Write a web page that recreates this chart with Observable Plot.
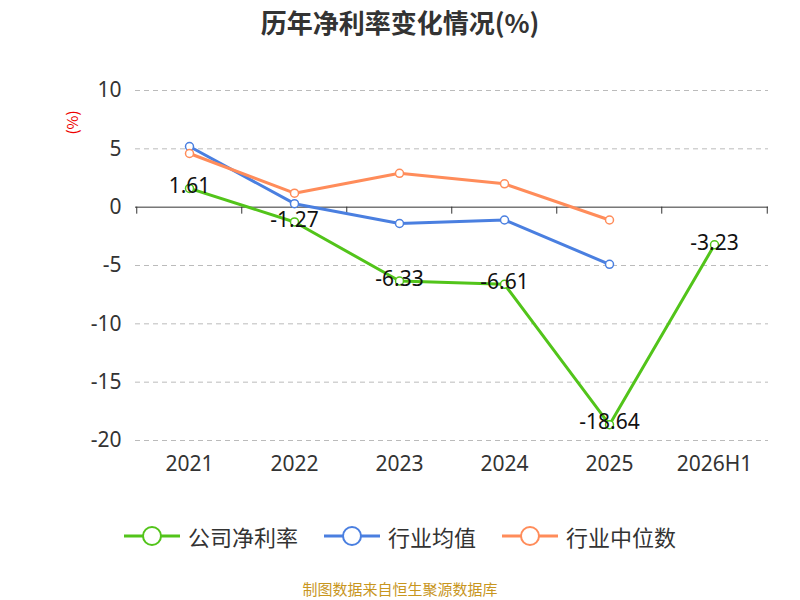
<!DOCTYPE html>
<html><head><meta charset="utf-8">
<script src="https://cdn.jsdelivr.net/npm/d3@7"></script>
<script src="https://cdn.jsdelivr.net/npm/@observablehq/plot@0.6"></script>
<style>
body{margin:0;width:800px;height:600px;background:#fff;font-family:"Noto Sans CJK SC","Noto Sans",sans-serif;position:relative}
#title{height:50px;line-height:44px;text-align:center;font-size:26px;font-weight:bold;color:#333}
#legend{position:absolute;top:520px;left:0;width:800px;display:flex;justify-content:center;gap:26px;font-size:22px;color:#333}
.li{display:flex;align-items:center;gap:8px}
#cap{position:absolute;top:578px;width:800px;text-align:center;font-size:15px;color:#c8961e}
#unit{position:absolute;left:60px;top:112px;transform:rotate(-90deg);color:#e00;font-size:15px}
</style></head><body>
<div id="title">历年净利率变化情况(%)</div>
<div id="chart"></div>
<div id="unit">(%)</div>
<div id="legend"></div>
<div id="cap">制图数据来自恒生聚源数据库</div>
<script>
const years=["2021","2022","2023","2024","2025","2026H1"];
const company=[1.61,-1.27,-6.33,-6.61,-18.64,-3.23];
const indAvg=[5.2,0.3,-1.4,-1.1,-4.9];
const indMed=[4.6,1.2,2.9,2.0,-1.1];
const yTicks=[10,5,0,-5,-10,-15,-20];
const series=[["公司净利率","#52c41a",company],["行业均值","#4a7fe0",indAvg],["行业中位数","#ff8c5a",indMed]];
const rows=series.flatMap(([n,c,v])=>v.map((y,i)=>({name:n,x:years[i],y})));
const comp=company.map((y,i)=>({x:years[i],y}));
const colorOf=n=>series.find(s=>s[0]===n)[1];
const chart=Plot.plot({width:800,height:440,marginTop:40,marginBottom:50,marginLeft:135,marginRight:32,
 x:{type:"point",domain:years,padding:0.5,label:null},
 y:{domain:[-20,10],ticks:yTicks,label:null},
 style:{fontFamily:"Noto Sans, sans-serif"},
 marks:[
  Plot.ruleY(yTicks.filter(d=>d!==0),{stroke:"#bbb",strokeDasharray:"5,4"}),
  Plot.ruleY([0],{stroke:"#333"}),
  Plot.ruleX(years,{x:d=>d,y1:0,y2:-0.6,dx:-52.75,stroke:"#333"}),
  Plot.ruleX(["2026H1"],{x:d=>d,y1:0,y2:-0.6,dx:52.75,stroke:"#333"}),
  Plot.axisY({ticks:yTicks,tickSize:0,tickPadding:14,fontSize:21,fill:"#333",tickFormat:d=>String(d)}),
  Plot.axisX({tickSize:0,tickPadding:16,fontSize:21,fill:"#333"}),
  Plot.line(rows,{x:"x",y:"y",z:"name",stroke:d=>colorOf(d.name),strokeWidth:3}),
  Plot.dot(rows,{x:"x",y:"y",r:4,fill:"#fff",stroke:d=>colorOf(d.name),strokeWidth:1.5}),
  Plot.text(comp,{x:"x",y:"y",text:d=>d.y.toFixed(2),fontSize:21,fill:"#111",dy:-2})
 ]});
document.getElementById("chart").appendChild(chart);
const lg=document.getElementById("legend");
series.forEach(([n,c])=>{lg.innerHTML+=`<div class="li"><svg width="56" height="24"><line x1="0" y1="12" x2="56" y2="12" stroke="${c}" stroke-width="3"/><circle cx="28" cy="12" r="9" fill="#fff" stroke="${c}" stroke-width="2"/></svg>${n}</div>`});
</script></body></html>
